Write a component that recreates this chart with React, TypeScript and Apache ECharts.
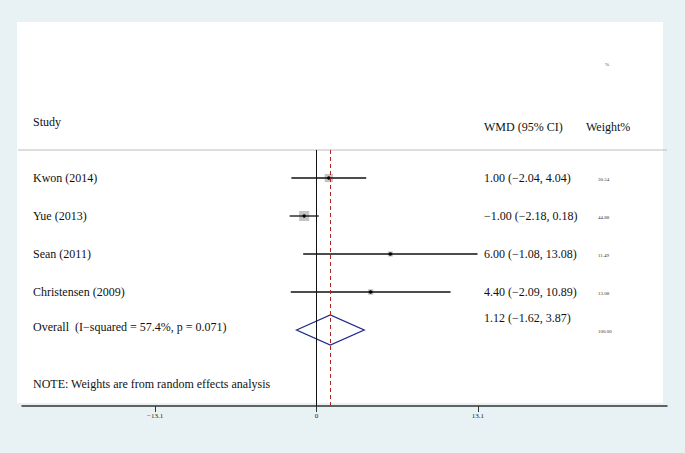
import React, { useEffect, useRef } from "react";
import * as echarts from "echarts";

const studies = ["Kwon (2014)", "Yue (2013)", "Sean (2011)", "Christensen (2009)"];
const wmd = [1.0, -1.0, 6.0, 4.4];
const lower = [-2.04, -2.18, -1.08, -2.09];
const upper = [4.04, 0.18, 13.08, 10.89];
const weights = [30.54, 44.88, 11.49, 13.08];

const overallLabel = "Overall  (I\u2212squared = 57.4%, p = 0.071)";
const overallEst = 1.12;
const overallLower = -1.62;
const overallUpper = 3.87;
const overallWeight = 100.0;

const tickValues = [-13.1, 0, 13.1];
const tickLabels = ["\u221213.1", "0", "13.1"];

const fmt = (v: number) => (v < 0 ? "\u2212" : "") + Math.abs(v).toFixed(2);
const ciText = (e: number, l: number, u: number) => `${fmt(e)} (${fmt(l)}, ${fmt(u)})`;

const rowTexts = [
  ...studies.map((s, i) => ({ name: s, ci: ciText(wmd[i], lower[i], upper[i]), w: weights[i].toFixed(2) })),
  { name: overallLabel, ci: ciText(overallEst, overallLower, overallUpper), w: overallWeight.toFixed(2) },
];

const SERIF = '"Liberation Serif", "Times New Roman", serif';

export default function App() {
  const ref = useRef<HTMLDivElement>(null);
  useEffect(() => {
    if (!ref.current) return;
    const chart = echarts.init(ref.current, undefined, { renderer: "svg" });
    const studyData = studies.map((_, i) => [wmd[i], lower[i], upper[i], i, weights[i]]);
    const overallData = [[overallEst, overallLower, overallUpper, studies.length, overallWeight]];
    const textData = rowTexts.map((_, i) => [0, i]);

    chart.setOption({
      animation: false,
      backgroundColor: "#e8f1f3",
      graphic: [
        { type: "rect", z: -10, shape: { x: 17, y: 22, width: 646, height: 381 }, style: { fill: "#ffffff" } },
        { type: "line", z: 5, shape: { x1: 18, y1: 150, x2: 667, y2: 150 }, style: { stroke: "#bdbdbd", lineWidth: 1.2 } },
        { type: "text", z: 5, x: 33, y: 122, style: { text: "Study", fontSize: 12, fontFamily: SERIF, fill: "#111", verticalAlign: "middle" } },
        { type: "text", z: 5, x: 484, y: 127, style: { text: "WMD (95% CI)", fontSize: 12, fontFamily: SERIF, fill: "#111", verticalAlign: "middle" } },
        { type: "text", z: 5, x: 586, y: 127, style: { text: "Weight%", fontSize: 12, fontFamily: SERIF, fill: "#111", verticalAlign: "middle" } },
        { type: "text", z: 5, x: 605, y: 64, style: { text: "%", fontSize: 5, fontFamily: SERIF, fill: "#444", verticalAlign: "middle" } },
        { type: "text", z: 5, x: 33, y: 384, style: { text: "NOTE: Weights are from random effects analysis", fontSize: 12, fontFamily: SERIF, fill: "#111", verticalAlign: "middle" } },
      ],
      grid: { left: 22, right: 18, top: 150, bottom: 47 },
      xAxis: {
        type: "value",
        min: -23.92,
        max: 28.47,
        splitLine: { show: false },
        axisLine: { show: true, onZero: false, lineStyle: { color: "#333", width: 1.5 } },
        axisTick: { show: true, customValues: tickValues, length: 6, lineStyle: { color: "#333", width: 1 } },
        axisLabel: {
          customValues: tickValues,
          fontSize: 7,
          fontFamily: SERIF,
          color: "#222",
          margin: 6,
          formatter: (v: number) => tickLabels[tickValues.indexOf(v)] ?? String(v),
        },
      },
      yAxis: { type: "value", inverse: true, min: -0.737, max: 6, show: false },
      series: [
        {
          type: "custom",
          z: 3,
          encode: { x: [0, 1, 2], y: 3 },
          data: studyData,
          renderItem: (params: any, api: any) => {
            const est = api.value(0), lo = api.value(1), hi = api.value(2), row = api.value(3), w = api.value(4);
            const [xe, y] = api.coord([est, row]);
            const xl = api.coord([lo, row])[0];
            const xh = api.coord([hi, row])[0];
            const s = Math.sqrt(w) * 1.5;
            return {
              type: "group",
              children: [
                { type: "rect", shape: { x: xe - s / 2, y: y - s / 2, width: s, height: s }, style: { fill: "#c4c4c4" } },
                { type: "line", shape: { x1: xl, y1: y, x2: xh, y2: y }, style: { stroke: "#111", lineWidth: 1.3 } },
                { type: "circle", shape: { cx: xe, cy: y, r: 1.7 }, style: { fill: "#000" } },
              ],
            };
          },
          markLine: {
            silent: true,
            symbol: "none",
            label: { show: false },
            data: [
              { xAxis: 0, lineStyle: { color: "#111", type: "solid", width: 1 } },
              { xAxis: overallEst, lineStyle: { color: "#b22222", type: [4, 3], width: 1 } },
            ],
          },
        },
        {
          type: "custom",
          z: 3,
          encode: { x: [0, 1, 2], y: 3 },
          data: overallData,
          renderItem: (params: any, api: any) => {
            const est = api.value(0), lo = api.value(1), hi = api.value(2), row = api.value(3);
            const [xe, y] = api.coord([est, row]);
            const xl = api.coord([lo, row])[0];
            const xh = api.coord([hi, row])[0];
            const h = 15;
            return {
              type: "polygon",
              shape: { points: [[xl, y], [xe, y - h], [xh, y], [xe, y + h]] },
              style: { fill: "none", stroke: "#1f2a8a", lineWidth: 1.3 },
            };
          },
        },
        {
          type: "custom",
          z: 4,
          encode: { x: 0, y: 1 },
          data: textData,
          renderItem: (params: any, api: any) => {
            const i = params.dataIndex;
            const row = api.value(1);
            const y = api.coord([0, row])[1];
            const cs = params.coordSys;
            const t = rowTexts[i];
            const isOverall = i === studies.length;
            return {
              type: "group",
              children: [
                { type: "text", x: cs.x + 11, y: y + (isOverall ? -3 : 0), style: { text: t.name, fontSize: 12, fontFamily: SERIF, fill: "#111", verticalAlign: "middle" } },
                { type: "text", x: cs.x + 462, y: y + (isOverall ? -12 : 0), style: { text: t.ci, fontSize: 12, fontFamily: SERIF, fill: "#111", verticalAlign: "middle" } },
                { type: "text", x: cs.x + 576, y: y + 1, style: { text: t.w, fontSize: 5, fontFamily: SERIF, fill: "#333", verticalAlign: "middle" } },
              ],
            };
          },
        },
      ],
    });
    return () => chart.dispose();
  }, []);
  return <div ref={ref} style={{ position: "absolute", left: 0, top: 0, width: 685, height: 453 }} />;
}
